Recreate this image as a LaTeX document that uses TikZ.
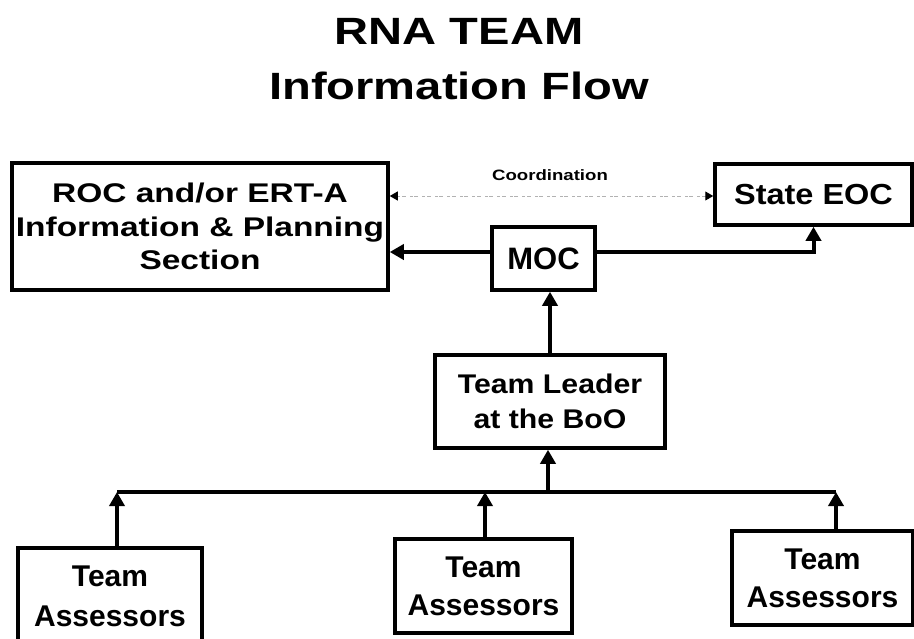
\documentclass[tikz,border=0pt]{standalone}
\usepackage{fontspec}
\setmainfont{Liberation Sans}
\newfontfamily\widesf{Liberation Sans}[FakeStretch=1.24]
\newfontfamily\midsf{Liberation Sans}[FakeStretch=1.12]
\usetikzlibrary{arrows.meta}
\tikzset{
	box/.style={draw, line width=3.5pt, inner sep=0pt, align=center, font=\bfseries},
	flow/.style={line width=4pt, -{Triangle[length=14pt,width=15pt]}},
	busline/.style={line width=4pt},
	coordline/.style={gray!60, line width=1pt, dash pattern=on 4pt off 1.5pt on 3pt off 4pt,
		{Triangle[length=8pt,width=9pt,color=black]}-{Triangle[length=8pt,width=9pt,color=black]}}
}

\begin{document}
\begin{tikzpicture}[x=1pt, y=-1pt]
			%%%%% START %%%%%
			\useasboundingbox (0, 0) rectangle (914, 638);
			
			\node[align=center, inner sep=0pt, anchor=north, font=\widesf\bfseries\fontsize{38}{55}\selectfont] (ttl) at (459, 18) {RNA TEAM\\Information Flow};
			
			\node[box, minimum width=376pt, minimum height=127pt, font=\widesf\bfseries\fontsize{27}{33.5}\selectfont] (roc) at (200, 226.5) {ROC and/or ERT-A\\Information \& Planning\\Section};
			\node[box, minimum width=197pt, minimum height=61pt, font=\midsf\bfseries\fontsize{29}{34}\selectfont] (eoc) at (813.5, 194.5) {State EOC};
			\node[box, minimum width=103pt, minimum height=63pt, font=\bfseries\fontsize{31}{36}\selectfont] (moc) at (543.5, 258.5) {MOC};
			
			\node[box, minimum width=230pt, minimum height=93pt, font=\midsf\bfseries\fontsize{27}{35}\selectfont] (lead) at (550, 401.5) {Team Leader\\at the BoO};
			
			\node[box, minimum width=184pt, minimum height=96pt, font=\bfseries\fontsize{30}{40}\selectfont] (ta1) at (110, 596) {Team\\Assessors};
			\node[box, minimum width=177pt, minimum height=94pt, font=\bfseries\fontsize{30}{38}\selectfont] (ta2) at (483.5, 586) {Team\\Assessors};
			\node[box, minimum width=181pt, minimum height=94pt, font=\bfseries\fontsize{30}{38}\selectfont] (ta3) at (822.5, 578) {Team\\Assessors};
			
			% top row
			\draw[coordline] (eoc.west |- 0, 196) -- (roc.east |- 0, 196);
			\node[font=\widesf\bfseries\fontsize{15}{18}\selectfont, anchor=base] (crd) at (550, 180) {Coordination};
			
			\draw[flow] ([yshift=6.5pt]moc.west) -- ([yshift=6.5pt]moc.west -| roc.east);
			\draw[flow] ([yshift=6.5pt]moc.east) -| (eoc.south);
			\draw[flow] (lead.north) -- (lead.north |- moc.south);
			
			% assessors to leader
			\coordinate (bus) at (548, 492);
			\draw[busline] ([xshift=7pt]ta1.north |- bus) -- ([xshift=13.5pt]ta3.north |- bus);
			\draw[flow] (bus) -- (bus |- lead.south);
			\draw[flow] ([xshift=7pt]ta1.north) -- ([xshift=7pt]ta1.north |- bus);
			\draw[flow] ([xshift=1.5pt]ta2.north) -- ([xshift=1.5pt]ta2.north |- bus);
			\draw[flow] ([xshift=13.5pt]ta3.north) -- ([xshift=13.5pt]ta3.north |- bus);
			
			%%%%% END %%%%%
		\end{tikzpicture}
\end{document}
